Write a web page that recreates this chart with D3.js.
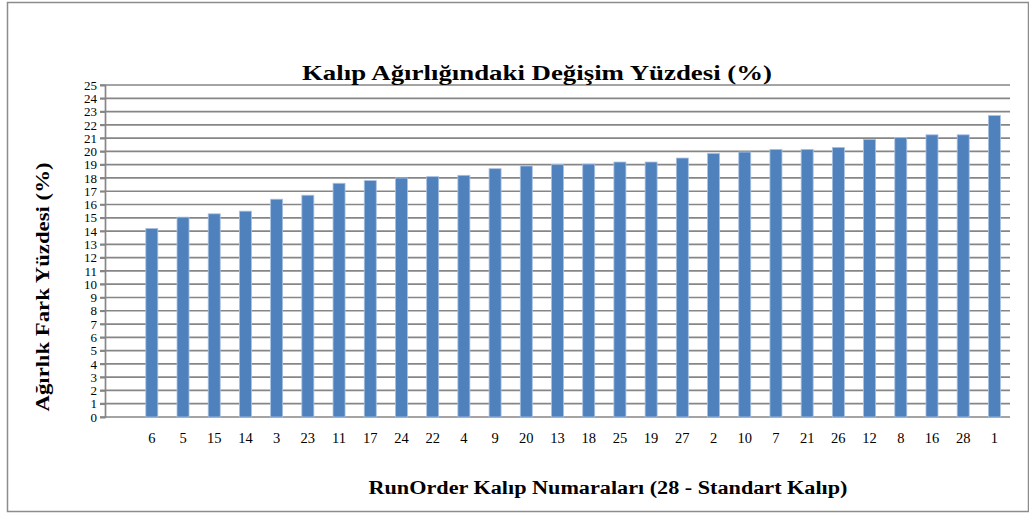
<!DOCTYPE html>
<html>
<head>
<meta charset="utf-8">
<script src="https://d3js.org/d3.v7.min.js"></script>
<style>
  body { margin: 0; background: #fff; }
  text { font-family: "Liberation Serif", "DejaVu Serif", serif; }
</style>
</head>
<body>
<script>
// run order labels (first slot is empty in the original chart)
var runOrder = ["", "6", "5", "15", "14", "3", "23", "11", "17", "24", "22", "4", "9", "20", "13",
                "18", "25", "19", "27", "2", "10", "7", "21", "26", "12", "8", "16", "28", "1"];
var percent  = [null, 14.2, 15.05, 15.3, 15.5, 16.4, 16.7, 17.6, 17.8, 18.0, 18.1, 18.2, 18.7, 18.9, 19.0,
                19.05, 19.2, 19.2, 19.5, 19.85, 19.95, 20.15, 20.15, 20.3, 20.9, 21.05, 21.25, 21.25, 22.7];
var yTicks = d3.range(0, 26);

const W = 1029, H = 513;
const pLeft = 105, pRight = 1010, pTop = 85, pBottom = 417;

const svg = d3.select("body").append("svg")
  .attr("width", W).attr("height", H);

// outer frame
svg.append("rect")
  .attr("x", 7.5).attr("y", 2.5).attr("width", W - 8).attr("height", 509)
  .attr("fill", "#fff").attr("stroke", "#8c8c8c").attr("stroke-width", 1.5);

var x = d3.scaleBand().domain(d3.range(runOrder.length)).range([pLeft, pRight]);
var y = d3.scaleLinear().domain([0, 25]).range([pBottom, pTop]);

// gridlines
svg.append("g").selectAll("line")
  .data(yTicks).enter().append("line")
  .attr("x1", pLeft - 5).attr("x2", pRight)
  .attr("y1", d => y(d)).attr("y2", d => y(d))
  .attr("stroke", "#868686").attr("stroke-width", 1.7);

// y axis
var yAxis = svg.append("g")
  .attr("transform", "translate(" + pLeft + ",0)")
  .call(d3.axisLeft(y).tickValues(yTicks).tickSize(5).tickPadding(3));
yAxis.select(".domain").attr("stroke", "#868686").attr("stroke-width", 1.7);
yAxis.selectAll(".tick line").attr("stroke", "#868686").attr("stroke-width", 1.7);
yAxis.selectAll("text")
  .attr("font-family", "Liberation Serif").attr("font-size", 13).attr("fill", "#000");

// bars
const barW = 12;
svg.append("g").selectAll("rect")
  .data(percent.map((v, i) => ({ v: v, i: i })).filter(d => d.v != null))
  .enter().append("rect")
  .attr("x", d => x(d.i) + x.bandwidth() / 2 - barW / 2)
  .attr("y", d => y(d.v))
  .attr("width", barW)
  .attr("height", d => pBottom - y(d.v))
  .attr("fill", "#4f81bd")
  .attr("stroke", "#a9c1e3").attr("stroke-width", 0.8);

// x labels
svg.append("g").selectAll("text")
  .data(runOrder.map((r, i) => ({ r: r, i: i })))
  .enter().append("text")
  .attr("x", d => x(d.i) + x.bandwidth() / 2)
  .attr("y", 443)
  .attr("text-anchor", "middle")
  .attr("font-size", 14.5)
  .text(d => d.r);

// titles
svg.append("text")
  .attr("x", 537).attr("y", 80)
  .attr("text-anchor", "middle")
  .attr("font-weight", "bold").attr("font-size", 21)
  .attr("textLength", 470).attr("lengthAdjust", "spacingAndGlyphs")
  .text("Kalıp Ağırlığındaki Değişim Yüzdesi (%)");

svg.append("text")
  .attr("x", 608).attr("y", 494)
  .attr("text-anchor", "middle")
  .attr("font-weight", "bold").attr("font-size", 18)
  .attr("textLength", 479).attr("lengthAdjust", "spacingAndGlyphs")
  .text("RunOrder Kalıp Numaraları (28 - Standart Kalıp)");

svg.append("text")
  .attr("transform", "translate(49,287) rotate(-90)")
  .attr("text-anchor", "middle")
  .attr("font-weight", "bold").attr("font-size", 18)
  .attr("textLength", 249).attr("lengthAdjust", "spacingAndGlyphs")
  .text("Ağırlık Fark Yüzdesi (%)");
</script>
</body>
</html>
